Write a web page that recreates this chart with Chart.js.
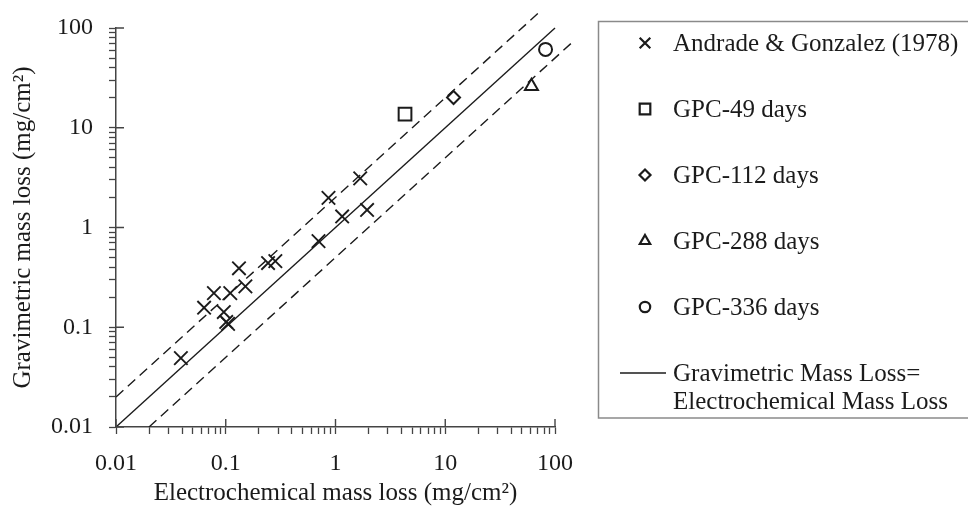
<!DOCTYPE html>
<html>
<head>
<meta charset="utf-8">
<script src="https://cdn.jsdelivr.net/npm/chart.js@4"></script>
<style>
  html, body { margin: 0; padding: 0; background: #fff; }
  #wrap { width: 968px; height: 506px; }
</style>
</head>
<body>
<div id="wrap"><canvas id="massChart"></canvas></div>
<script>
/* global Chart */

// decades on both log axes
const decades = [0.01, 0.1, 1, 10, 100];
const tickLabels = ['0.01', '0.1', '1', '10', '100'];

// Andrade & Gonzalez (1978)
const andradeX = [0.039, 0.0635, 0.078, 0.096, 0.101, 0.105, 0.11, 0.132, 0.151, 0.243, 0.283, 0.70, 0.863, 1.15, 1.68, 1.94];
const andradeY = [0.049, 0.157, 0.22, 0.142, 0.113, 0.108, 0.22, 0.39, 0.257, 0.44, 0.46, 0.73, 1.98, 1.29, 3.11, 1.50];

// GPC specimens
const gpc49X = [4.3];
const gpc49Y = [13.7];
const gpc112X = [11.9];
const gpc112Y = [20.1];
const gpc288X = [61];
const gpc288Y = [26];
const gpc336X = [82];
const gpc336Y = [61];

// reference lines: y = x, y = 2x, y = x/2
const equalX = [0.01, 100];
const equalY = [0.01, 100];
const upperX = [0.01, 75];
const upperY = [0.02, 150];
const lowerX = [0.02, 140];
const lowerY = [0.01, 70];

const legendLabels = ['Andrade & Gonzalez (1978)', 'GPC-49 days', 'GPC-112 days', 'GPC-288 days', 'GPC-336 days'];
const lineLabel = ['Gravimetric Mass Loss=', 'Electrochemical Mass Loss'];

const pts = (xs, ys) => xs.map((x, i) => ({ x, y: ys[i] }));

const ink = '#1b1b1b';
const serif = '"Liberation Serif", "Times New Roman", serif';
Chart.defaults.font.family = serif;
Chart.defaults.color = ink;

const marker = (label, style, xs, ys, r, w) => ({
  type: 'scatter',
  label,
  data: pts(xs, ys),
  pointStyle: style,
  pointRadius: r,
  pointHoverRadius: r,
  pointBorderWidth: w,
  borderColor: ink,
  backgroundColor: '#fff',
  order: 1,
});

const refLine = (xs, ys, dash) => ({
  type: 'line',
  label: 'ref',
  data: pts(xs, ys),
  borderColor: ink,
  borderWidth: 1.4,
  borderDash: dash,
  pointRadius: 0,
  fill: false,
  clip: false,
  order: 5,
});

// all 1..9 x 10^n ticks so minor tick marks get drawn
function allTicks() {
  const out = [];
  decades.forEach((d, i) => {
    const last = i === decades.length - 1;
    for (let k = 1; k <= (last ? 1 : 9); k++) out.push({ value: d * k });
  });
  return out;
}

function tickLabel(value) {
  const i = decades.findIndex((d) => Math.abs(d - value) / d < 1e-6);
  return i >= 0 ? tickLabels[i] : '';
}

// major ticks also poke into the plot area
const innerTicks = {
  id: 'innerTicks',
  afterDraw(chart) {
    const { ctx, chartArea: a } = chart;
    const xs = chart.scales.x;
    const ys = chart.scales.y;
    ctx.save();
    ctx.strokeStyle = '#444';
    ctx.lineWidth = 1.4;
    decades.forEach((d) => {
      const px = xs.getPixelForValue(d);
      const py = ys.getPixelForValue(d);
      ctx.beginPath();
      ctx.moveTo(px, a.bottom);
      ctx.lineTo(px, a.bottom - 8);
      ctx.moveTo(a.left, py);
      ctx.lineTo(a.left + 8, py);
      ctx.stroke();
    });
    ctx.restore();
  },
};

// boxed legend on the right
const boxLegend = {
  id: 'boxLegend',
  afterDraw(chart) {
    const { ctx } = chart;
    ctx.save();
    ctx.strokeStyle = '#8a8a8a';
    ctx.lineWidth = 1.5;
    ctx.strokeRect(598.5, 21.5, 390, 396.5);

    ctx.font = `25px ${serif}`;
    ctx.fillStyle = ink;
    ctx.textBaseline = 'middle';
    ctx.textAlign = 'left';
    const rowY = [43, 109, 175, 241, 307];
    const sizes = [7.5, 7.5, 5.5, 6, 5.2];
    legendLabels.forEach((txt, i) => {
      const ds = chart.data.datasets[i];
      ctx.strokeStyle = ink;
      ctx.fillStyle = '#fff';
      ctx.lineWidth = 2.2;
      Chart.helpers.drawPoint(ctx, { pointStyle: ds.pointStyle, radius: sizes[i], borderWidth: 2.2 }, 645, rowY[i]);
      ctx.fillStyle = ink;
      ctx.fillText(txt, 673, rowY[i] + 1);
    });
    ctx.strokeStyle = ink;
    ctx.lineWidth = 1.4;
    ctx.beginPath();
    ctx.moveTo(620, 373);
    ctx.lineTo(666, 373);
    ctx.stroke();
    ctx.fillText(lineLabel[0], 673, 374);
    ctx.fillText(lineLabel[1], 673, 402);
    ctx.restore();
  },
};

const axisStyle = (titleText, titlePad) => ({
  type: 'logarithmic',
  min: 0.01,
  max: 100,
  afterBuildTicks: (scale) => { scale.ticks = allTicks(); },
  ticks: {
    autoSkip: false,
    maxRotation: 0,
    font: { size: 24, lineHeight: 1 },
    color: ink,
    callback: (value) => tickLabel(value),
  },
  grid: {
    drawOnChartArea: false,
    drawTicks: true,
    tickLength: 7,
    tickColor: '#444',
    tickWidth: 1.3,
  },
  border: { display: true, color: '#444', width: 1.5 },
  title: {
    display: true,
    text: titleText,
    font: { size: 25 },
    color: ink,
    padding: titlePad,
  },
});

const xAxis = axisStyle('Electrochemical mass loss (mg/cm²)', { top: 0, bottom: -2 });
xAxis.ticks.padding = 18;
xAxis.afterFit = (scale) => { scale.height = 79; };

const yAxis = axisStyle('Gravimetric mass loss (mg/cm²)', { top: 8, bottom: 0 });
yAxis.ticks.padding = 16;
yAxis.afterFit = (scale) => { scale.width = 116; };

new Chart(document.getElementById('massChart'), {
  type: 'scatter',
  data: {
    datasets: [
      marker(legendLabels[0], 'crossRot', andradeX, andradeY, 9.5, 1.9),
      marker(legendLabels[1], 'rect', gpc49X, gpc49Y, 9, 2),
      marker(legendLabels[2], 'rectRot', gpc112X, gpc112Y, 6.5, 2),
      marker(legendLabels[3], 'triangle', gpc288X, gpc288Y, 7.5, 2),
      marker(legendLabels[4], 'circle', gpc336X, gpc336Y, 6.5, 2),
      refLine(equalX, equalY, []),
      refLine(upperX, upperY, [10, 6]),
      refLine(lowerX, lowerY, [10, 6]),
    ],
  },
  options: {
    responsive: true,
    maintainAspectRatio: false,
    animation: false,
    layout: { padding: { left: 0, top: 27, right: 413, bottom: 0 } },
    plugins: {
      legend: { display: false },
      tooltip: { enabled: false },
    },
    scales: { x: xAxis, y: yAxis },
  },
  plugins: [innerTicks, boxLegend],
});
</script>
</body>
</html>
